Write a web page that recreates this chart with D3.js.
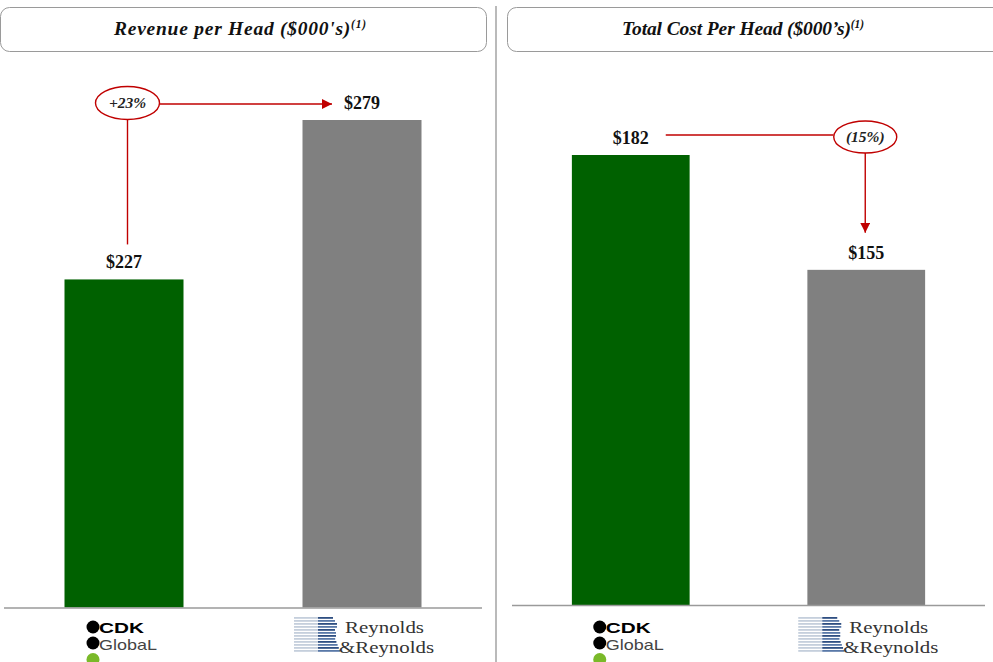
<!DOCTYPE html>
<html><head><meta charset="utf-8">
<script src="https://cdn.jsdelivr.net/npm/d3@7"></script>
<style>body{margin:0;background:#fff}svg{display:block}</style>
</head><body>
<svg id="c" width="993" height="662"></svg>
<script>
const categories = ["CDK Global", "Reynolds & Reynolds"];
const revenuePerHead = [227, 279];
const costPerHead = [182, 155];
const panelTitles = ["Revenue per Head ($000's)", "Total Cost Per Head ($000\u2019s)"];
const changeLabels = ["+23%", "(15%)"];

const svg = d3.select("#c");
const RED = "#c00000";
const serif = "Liberation Serif, DejaVu Serif, serif";
const sans = "Liberation Sans, Arial, sans-serif";

svg.append("defs").append("marker").attr("id","arr").attr("viewBox","0 0 10 10")
  .attr("refX",10).attr("refY",5).attr("markerWidth",10).attr("markerHeight",10)
  .attr("markerUnits","userSpaceOnUse").attr("orient","auto")
  .append("path").attr("d","M0,0L10,5L0,10Z").attr("fill",RED);

// divider
svg.append("line").attr("x1",496).attr("x2",496).attr("y1",6).attr("y2",662)
  .attr("stroke","#8c8c8c").attr("stroke-width",1.2);

const panels = [
  {values: revenuePerHead, title: panelTitles[0], titleX:240, titleW:252, box:[0.5,7.5,486,44], range:[5,481], yDom:[120,279], yRange:[607.5,120], base:607.5, lineX:[4,482]},
  {values: costPerHead, title: panelTitles[1], titleX:743, titleW:242, box:[507.5,7.5,500,44], range:[513,984], yDom:[76.2,182], yRange:[605,155], base:605, lineX:[512,985]}
];

function cdkLogo(g, cx) {
  const x = cx - 31;
  g.append("circle").attr("cx",x).attr("cy",627).attr("r",6.5).attr("fill","#000");
  g.append("circle").attr("cx",x).attr("cy",643).attr("r",6.5).attr("fill","#000");
  g.append("circle").attr("cx",x).attr("cy",659.5).attr("r",6.5).attr("fill","#7ab929");
  g.append("text").attr("font-family",sans).attr("font-size",14.5).attr("x",x+6).attr("y",632.5)
    .attr("fill","#000").attr("font-weight",600).attr("textLength",45).attr("lengthAdjust","spacingAndGlyphs")
    .text("CDK");
  g.append("text").attr("font-family",sans).attr("font-size",14.5).attr("x",x+6).attr("y",649.5)
    .attr("fill","#444").attr("font-weight",300).attr("textLength",58).attr("lengthAdjust","spacingAndGlyphs")
    .text("GlobaL");
}
function rrLogo(g, cx) {
  const x = cx - 68;
  for (let i = 0; i < 12; i++) {
    const y = 617 + i * 3;
    g.append("rect").attr("x",x).attr("y",y).attr("width",24).attr("height",1.8).attr("fill","#c5cfdc");
    const w = (i < 5) ? 20 - Math.abs(i - 2.5) * 2 : (i === 5 || i === 6 ? 18 : 16 + (i - 6) * 1.2);
    g.append("rect").attr("x",x+24).attr("y",y).attr("width",w).attr("height",1.8).attr("fill", i%2 ? "#5a79a8" : "#2f4f82");
  }
  g.append("text").attr("font-family",serif).attr("font-size",17).attr("fill","#333")
    .attr("x",x+51).attr("y",633).attr("textLength",79).attr("lengthAdjust","spacingAndGlyphs").text("Reynolds");
  g.append("text").attr("font-family",serif).attr("font-size",17).attr("fill","#333")
    .attr("x",x+45).attr("y",652.5).attr("textLength",95).attr("lengthAdjust","spacingAndGlyphs").text("&Reynolds");
}

const pos = [];
panels.forEach((p, pi) => {
  const g = svg.append("g");
  const [bx,by,bw,bh] = p.box;
  g.append("rect").attr("x",bx).attr("y",by).attr("width",bw).attr("height",bh).attr("rx",9)
    .attr("fill","#fff").attr("stroke","#9a9a9a").attr("stroke-width",1);
  const t = g.append("text").attr("x", p.titleX).attr("y",35).attr("text-anchor","middle")
    .attr("font-family",serif).attr("font-style","italic").attr("font-weight","bold")
    .attr("font-size",19.5).attr("fill","#111")
    .attr("textLength",p.titleW).attr("lengthAdjust","spacing");
  t.append("tspan").text(p.title);
  t.append("tspan").attr("dy",-7).attr("font-size",11.5).text("(1)");

  const x = d3.scaleBand().domain(categories).range(p.range).paddingInner(0.5).paddingOuter(0.25);
  const y = d3.scaleLinear().domain(p.yDom).range(p.yRange);
  const data = categories.map((c,i)=>({c, v:p.values[i], i}));

  g.selectAll("rect.bar").data(data).join("rect").attr("class","bar")
    .attr("x",d=>x(d.c)).attr("width",x.bandwidth())
    .attr("y",d=>y(d.v)).attr("height",d=>p.base - y(d.v))
    .attr("fill",d=>d.i===0 ? "#006100" : "#808080");

  g.selectAll("text.val").data(data).join("text").attr("class","val")
    .attr("x",d=>x(d.c)+x.bandwidth()/2).attr("y",d=>y(d.v)-11)
    .attr("text-anchor","middle").attr("font-family",serif).attr("font-weight","bold")
    .attr("font-size",18).attr("fill","#111").text(d=>"$"+d.v);

  g.append("line").attr("x1",p.lineX[0]).attr("x2",p.lineX[1]).attr("y1",p.base+0.5).attr("y2",p.base+0.5)
    .attr("stroke","#9a9a9a").attr("stroke-width",1.6);

  const lg = g.append("g");
  cdkLogo(lg, x(categories[0]) + x.bandwidth()/2);
  rrLogo(lg, x(categories[1]) + x.bandwidth()/2);

  pos.push({x, y, data, g});
});

// Left annotation (+23%)
{
  const {x, y, g} = pos[0];
  const c0 = x(categories[0]) + x.bandwidth()/2 + 3.5;
  const c1 = x(categories[1]) + x.bandwidth()/2;
  const ey = y(revenuePerHead[1]) - 17;
  g.append("line").attr("x1",c0).attr("x2",c0).attr("y1",ey+17).attr("y2",y(revenuePerHead[0]) - 35)
    .attr("stroke",RED).attr("stroke-width",1.4);
  g.append("line").attr("x1",c0+32).attr("x2",c1-30).attr("y1",ey+1).attr("y2",ey+1)
    .attr("stroke",RED).attr("stroke-width",1.4).attr("marker-end","url(#arr)");
  g.append("ellipse").attr("cx",c0).attr("cy",ey).attr("rx",32).attr("ry",16.5)
    .attr("fill","#fff").attr("stroke",RED).attr("stroke-width",1.4);
  g.append("text").attr("x",c0).attr("y",ey+5).attr("text-anchor","middle").attr("font-family",serif)
    .attr("font-style","italic").attr("font-weight","bold").attr("font-size",15.5).attr("fill","#222").text(changeLabels[0]);
}
// Right annotation ((15%))
{
  const {x, y, g} = pos[1];
  const c0 = x(categories[0]) + x.bandwidth()/2;
  const c1 = x(categories[1]) + x.bandwidth()/2 - 1;
  const ey = y(costPerHead[0]) - 18;
  g.append("line").attr("x1",c0+35).attr("x2",c1-32).attr("y1",ey-2).attr("y2",ey-2)
    .attr("stroke",RED).attr("stroke-width",1.4);
  g.append("line").attr("x1",c1).attr("x2",c1).attr("y1",ey+16).attr("y2",y(costPerHead[1]) - 37)
    .attr("stroke",RED).attr("stroke-width",1.4).attr("marker-end","url(#arr)");
  g.append("ellipse").attr("cx",c1).attr("cy",ey).attr("rx",31.5).attr("ry",16)
    .attr("fill","#fff").attr("stroke",RED).attr("stroke-width",1.4);
  g.append("text").attr("x",c1).attr("y",ey+5).attr("text-anchor","middle").attr("font-family",serif)
    .attr("font-style","italic").attr("font-weight","bold").attr("font-size",15.5).attr("fill","#222").text(changeLabels[1]);
}
</script>
</body></html>
